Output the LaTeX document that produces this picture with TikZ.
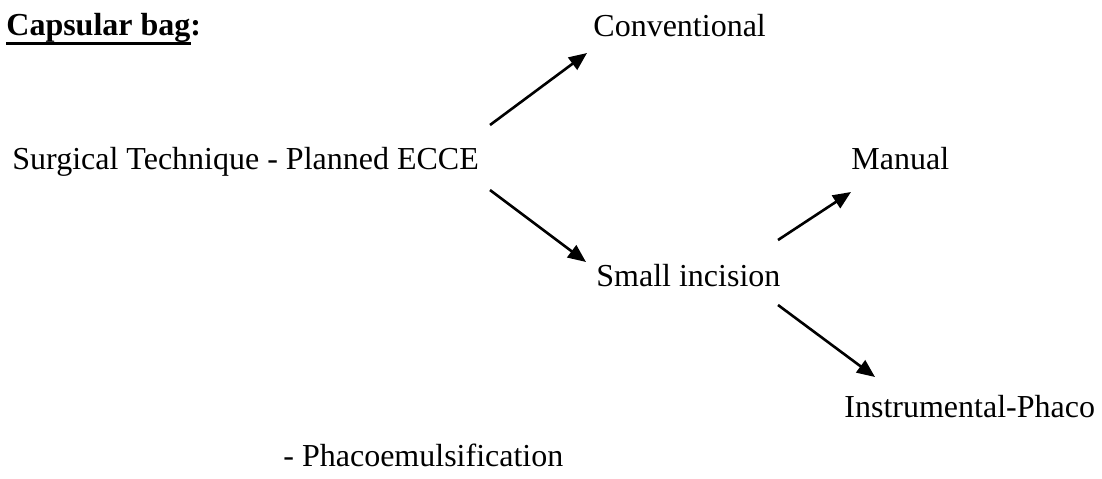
\documentclass[tikz,border=0pt]{standalone}
\usepackage{fontspec}
\setmainfont{Liberation Serif}
\usetikzlibrary{arrows.meta}
\begin{document}
\begin{tikzpicture}[x=0.5pt,y=-0.5pt,
  lbl/.style={anchor=base west,inner sep=0pt,font=\fontsize{16}{19}\selectfont},
  arr/.style={line width=1.3pt,-{Triangle[length=9pt,width=7.5pt]}}]
\useasboundingbox (0,0) rectangle (1102,478);
\node[lbl,font=\fontsize{16}{19}\selectfont\bfseries] (cap) at (6,35) {Capsular bag:};
\draw[line width=1.8pt] (6,43.5) -- (191,43.5);
\node[lbl] (conv) at (593,36) {Conventional};
\node[lbl] (surg) at (12,169) {Surgical Technique - Planned ECCE};
\node[lbl] (man) at (851,169) {Manual};
\node[lbl] (small) at (596,286) {Small incision};
\node[lbl] (instr) at (844,417) {Instrumental-Phaco};
\node[lbl] (phaco) at (283,466) {- Phacoemulsification};
\coordinate (a1s) at (490,125); \coordinate (a1e) at (587,53);
\coordinate (a2s) at (490,190); \coordinate (a2e) at (586,262);
\coordinate (a3s) at (778,240); \coordinate (a3e) at (851,192);
\coordinate (a4s) at (778,305); \coordinate (a4e) at (875,377);
\draw[arr] (a1s) -- (a1e);
\draw[arr] (a2s) -- (a2e);
\draw[arr] (a3s) -- (a3e);
\draw[arr] (a4s) -- (a4e);
\end{tikzpicture}
\end{document}
